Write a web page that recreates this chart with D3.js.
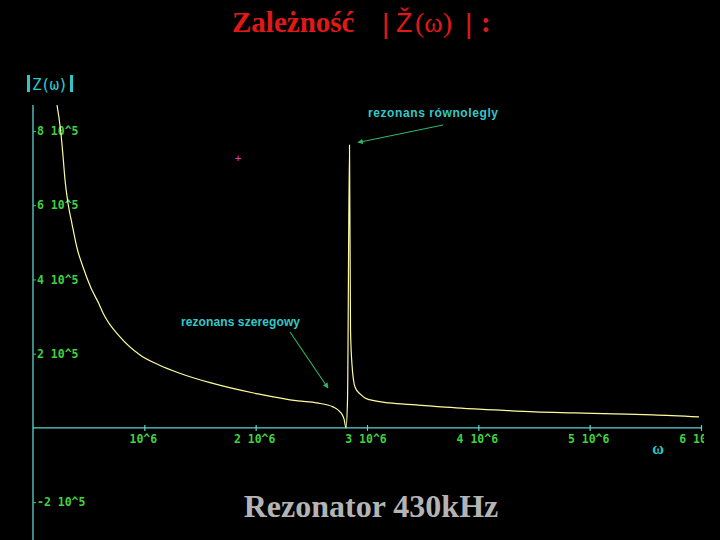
<!DOCTYPE html>
<html><head><meta charset="utf-8">
<script src="https://cdn.jsdelivr.net/npm/d3@7"></script>
<style>body{margin:0;background:#000}svg{display:block;background:#000}</style>
</head><body><svg id="c" width="720" height="540"></svg>
<script>
// angular frequency ω (rad/s) and |Z(ω)| (Ω)
const omega = [215600, 233600, 251500, 269500, 287500, 314400, 350400, 395300, 449200, 521000,
  592800, 628800, 781400, 961100, 1131800, 1311400, 1598800, 2021000, 2380300, 2551000,
  2694700, 2766500, 2793500, 2811400, 2824900, 2842900, 2851900, 2865400, 2892300, 2937300,
  2982000, 3071900, 3197700, 3440200, 3799500, 4149800, 4509100, 4859400, 5218700, 5569000, 5982200];
const impedance = [869900, 834900, 791800, 732600, 667900, 605300, 549300, 484700, 433600, 377000,
  334000, 309700, 245100, 196600, 169700, 148100, 121200, 91600, 72700, 67300,
  56600, 40400, 24200, 0, 75400, 762200, 263900, 169700, 110400, 91600,
  80800, 72700, 67300, 61900, 53900, 48500, 43100, 40400, 37700, 35000, 29600];
const xTickValues = [1e6, 2e6, 3e6, 4e6, 5e6, 6e6];
const xTickLabels = ["10^6", "2 10^6", "3 10^6", "4 10^6", "5 10^6", "6 10^6"];
const yTickValues = [-2e5, 2e5, 4e5, 6e5, 8e5];
const yTickLabels = ["-2 10^5", "2 10^5", "4 10^5", "6 10^5", "8 10^5"];
const annotations = ["rezonans równolegly", "rezonans szeregowy"];

const svg = d3.select("#c");
const x = d3.scaleLinear().domain([0, 6e6]).range([33, 701]);
const y = d3.scaleLinear().domain([-302000, 870000]).range([540, 105]);

const axisColor = "#5fd3d3";
const tickColor = "#3fd23f";
const monoFont = "'DejaVu Sans Mono', monospace";

// title
const title = svg.append("g").attr("fill", "#e01818");
title.append("text").attr("x", 232).attr("y", 32)
  .attr("font-family", "'Liberation Serif', serif").attr("font-weight", "bold").attr("font-size", 29)
  .text("Zależność");
title.append("text").attr("x", 382).attr("y", 33)
  .attr("font-family", "'Liberation Sans', sans-serif").attr("font-size", 28)
  .text("|");
title.append("text").attr("x", 396).attr("y", 32)
  .attr("font-family", "'Liberation Sans', sans-serif").attr("font-size", 27)
  .text("Ž");
title.append("text").attr("x", 415).attr("y", 32)
  .attr("font-family", "'Liberation Serif', serif").attr("font-size", 28)
  .text("(ω)");
title.append("text").attr("x", 465).attr("y", 33)
  .attr("font-family", "'Liberation Sans', sans-serif").attr("font-size", 28)
  .text("|");
title.append("text").attr("x", 481).attr("y", 32)
  .attr("font-family", "'Liberation Serif', serif").attr("font-weight", "bold").attr("font-size", 29)
  .text(":");

// y-axis label |Z(ω)|
svg.append("rect").attr("x", 27).attr("y", 75).attr("width", 3).attr("height", 17).attr("fill", "#2cc8c8");
svg.append("rect").attr("x", 70).attr("y", 75).attr("width", 3).attr("height", 17).attr("fill", "#2cc8c8");
svg.append("text").attr("x", 32).attr("y", 90).attr("fill", "#2cc8c8")
  .attr("font-family", monoFont).attr("font-size", 16).attr("textLength", 36).text("Z(ω)");

// axes lines
svg.append("line").attr("x1", x(0)).attr("x2", x(0)).attr("y1", 105).attr("y2", 540)
  .attr("stroke", axisColor).attr("stroke-width", 1.3);
svg.append("line").attr("x1", x(0)).attr("x2", x(6e6)).attr("y1", y(0)).attr("y2", y(0))
  .attr("stroke", axisColor).attr("stroke-width", 1.3);

// y axis ticks
const yAxis = d3.axisRight(y).tickValues(yTickValues).tickSize(3).tickPadding(1)
  .tickFormat((d, i) => yTickLabels[i]);
const gy = svg.append("g").attr("transform", `translate(${x(0)},0)`).call(yAxis);
gy.select(".domain").remove();
gy.selectAll(".tick line").attr("stroke", tickColor);
gy.selectAll(".tick text").attr("fill", tickColor).attr("font-family", monoFont)
  .attr("font-weight", "bold").attr("font-size", 11.5);

// x axis ticks
svg.append("clipPath").attr("id", "xclip").append("rect")
  .attr("x", 0).attr("y", 0).attr("width", 704).attr("height", 540);
const xAxis = d3.axisBottom(x).tickValues(xTickValues).tickSize(6).tickPadding(4)
  .tickFormat((d, i) => xTickLabels[i]);
const gx = svg.append("g").attr("transform", `translate(0,${y(0) - 3})`)
  .attr("clip-path", "url(#xclip)").call(xAxis);
gx.select(".domain").remove();
gx.selectAll(".tick line").attr("stroke", axisColor).attr("stroke-width", 1.2);
gx.selectAll(".tick text").attr("fill", tickColor).attr("font-family", monoFont)
  .attr("font-weight", "bold").attr("font-size", 11.5).attr("dx", -1.5);

// ω label
svg.append("text").attr("x", 658).attr("y", 454).attr("text-anchor", "middle")
  .attr("fill", "#2cc8c8").attr("font-family", "'Liberation Serif', serif").attr("font-weight", "bold")
  .attr("font-size", 16).text("ω");

// curve
const pts = omega.map((w, i) => [w, impedance[i]]);
svg.append("path").datum(pts)
  .attr("fill", "none").attr("stroke", "#fdfd9c").attr("stroke-width", 1.2)
  .attr("d", d3.line().x(d => x(d[0])).y(d => y(d[1])).curve(d3.curveMonotoneX));

// annotations
const annColor = "#33c9c9";
const arrowColor = "#2fb56a";
svg.append("defs").append("marker").attr("id", "ah").attr("viewBox", "0 0 10 10")
  .attr("refX", 9).attr("refY", 5).attr("markerWidth", 5).attr("markerHeight", 5)
  .attr("orient", "auto").append("path").attr("d", "M0,0L10,5L0,10z").attr("fill", arrowColor);

svg.append("text").attr("x", 368).attr("y", 117).attr("fill", annColor)
  .attr("font-family", "'Liberation Sans', Arial, sans-serif").attr("font-weight", "bold")
  .attr("font-size", 12).attr("textLength", 130).text(annotations[0]);
svg.append("line").attr("x1", 443).attr("y1", 125).attr("x2", 358).attr("y2", 142.5)
  .attr("stroke", arrowColor).attr("stroke-width", 1.1).attr("marker-end", "url(#ah)");

svg.append("text").attr("x", 181).attr("y", 326).attr("fill", annColor)
  .attr("font-family", "'Liberation Sans', Arial, sans-serif").attr("font-weight", "bold")
  .attr("font-size", 12).attr("textLength", 119).text(annotations[1]);
svg.append("line").attr("x1", 290).attr("y1", 332).attr("x2", 328).attr("y2", 388)
  .attr("stroke", arrowColor).attr("stroke-width", 1.1).attr("marker-end", "url(#ah)");

// cursor plus
svg.append("text").attr("x", 238).attr("y", 162).attr("text-anchor", "middle").attr("fill", "#d040c0")
  .attr("font-family", monoFont).attr("font-size", 11).text("+");

// footer
svg.append("text").attr("x", 371).attr("y", 517).attr("text-anchor", "middle")
  .attr("fill", "#b4b4b4").attr("font-family", "'Liberation Serif', serif").attr("font-weight", "bold")
  .attr("font-size", 32).text("Rezonator 430kHz");
</script></body></html>
